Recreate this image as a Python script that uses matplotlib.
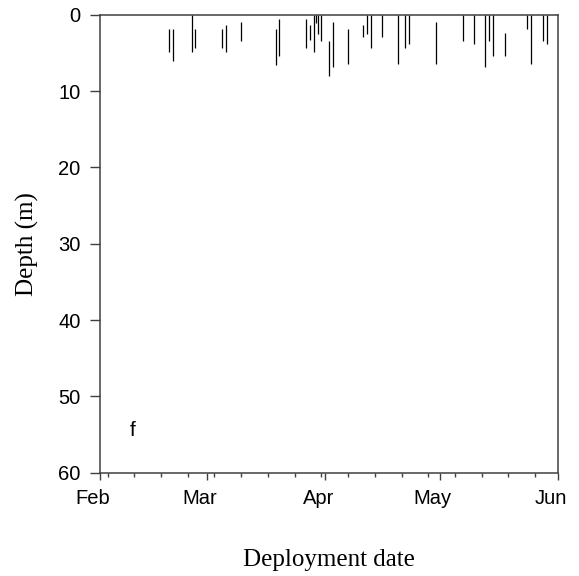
import datetime as dt

import numpy as np
import matplotlib
matplotlib.use("Agg")
import matplotlib.pyplot as plt
import matplotlib.dates as mdates
from matplotlib.transforms import ScaledTranslation


# deployment dates and depth range (m) of each deployment
dates = [
    "2014-02-19", "2014-02-20", "2014-02-25", "2014-02-26", "2014-03-05",
    "2014-03-06", "2014-03-10", "2014-03-19", "2014-03-20", "2014-03-27",
    "2014-03-28", "2014-03-29", "2014-03-29 14:00", "2014-03-30", "2014-03-31",
    "2014-04-02", "2014-04-03", "2014-04-07", "2014-04-11", "2014-04-12",
    "2014-04-13", "2014-04-16", "2014-04-20", "2014-04-22", "2014-04-23",
    "2014-04-30", "2014-05-07", "2014-05-10", "2014-05-13", "2014-05-14",
    "2014-05-15", "2014-05-18", "2014-05-24", "2014-05-25", "2014-05-28",
    "2014-05-29",
]
depth_min = [
    1.9, 1.9, 0.0, 1.9, 1.9,
    1.4, 0.9, 1.9, 0.5, 0.5,
    1.4, 0.0, 0.0, 0.0, 0.0,
    3.4, 0.9, 1.9, 1.4, 0.0,
    0.0, 0.0, 0.0, 0.0, 0.0,
    0.9, 0.0, 0.0, 0.0, 0.0,
    0.0, 2.4, 0.0, 0.0, 0.0,
    0.0,
]
depth_max = [
    4.9, 6.1, 4.9, 4.4, 4.4,
    4.9, 3.4, 6.6, 5.4, 4.4,
    3.3, 4.9, 1.1, 2.5, 3.4,
    8.0, 6.8, 6.4, 2.9, 2.5,
    4.4, 2.9, 6.4, 4.4, 3.9,
    6.4, 3.4, 3.9, 6.8, 3.4,
    5.4, 5.4, 1.9, 6.4, 3.4,
    3.9,
]

x = [dt.datetime.fromisoformat(d) for d in dates]

fig = plt.figure(figsize=(5.79, 5.76), dpi=100)
ax = fig.add_axes([0.1727, 0.1793, 0.791, 0.7952])

ax.vlines(x, depth_min, depth_max, colors="black", linewidth=0.9)

ax.set_xlim(dt.datetime(2014, 2, 1), dt.datetime(2014, 6, 1))
ax.set_ylim(60, 0)
ax.set_yticks(np.arange(0, 61, 10))

ax.xaxis.set_major_locator(mdates.MonthLocator())
ax.xaxis.set_major_formatter(mdates.DateFormatter("%b"))
ax.xaxis.set_minor_locator(mdates.WeekdayLocator(byweekday=mdates.MO))

for s in ax.spines.values():
    s.set_color("#404040")
    s.set_linewidth(1.1)

ax.tick_params(axis="y", which="major", direction="out", length=7, width=1,
               color="#404040", labelsize=14.5, pad=7)
ax.tick_params(axis="x", which="major", direction="out", length=5, width=1,
               color="#404040", labelsize=14.5, pad=7)
ax.tick_params(axis="x", which="minor", direction="out", length=3, width=1,
               color="#404040")

# month labels sit a little left of their ticks in the original
shift = ScaledTranslation(-7 / 100, 0, fig.dpi_scale_trans)
for lab in ax.get_xticklabels():
    lab.set_fontfamily("Liberation Sans")
    lab.set_transform(lab.get_transform() + shift)
for lab in ax.get_yticklabels():
    lab.set_fontfamily("Liberation Sans")

ax.set_xlabel("Deployment date", fontfamily="Liberation Serif", fontsize=18,
              labelpad=29)
ax.set_ylabel("Depth (m)", fontfamily="Liberation Serif", fontsize=18,
              labelpad=14)

ax.text(0.072, 0.093, "f", transform=ax.transAxes, fontsize=15,
        fontfamily="Liberation Sans", ha="center", va="center")

fig.savefig("out.png", dpi=100)
